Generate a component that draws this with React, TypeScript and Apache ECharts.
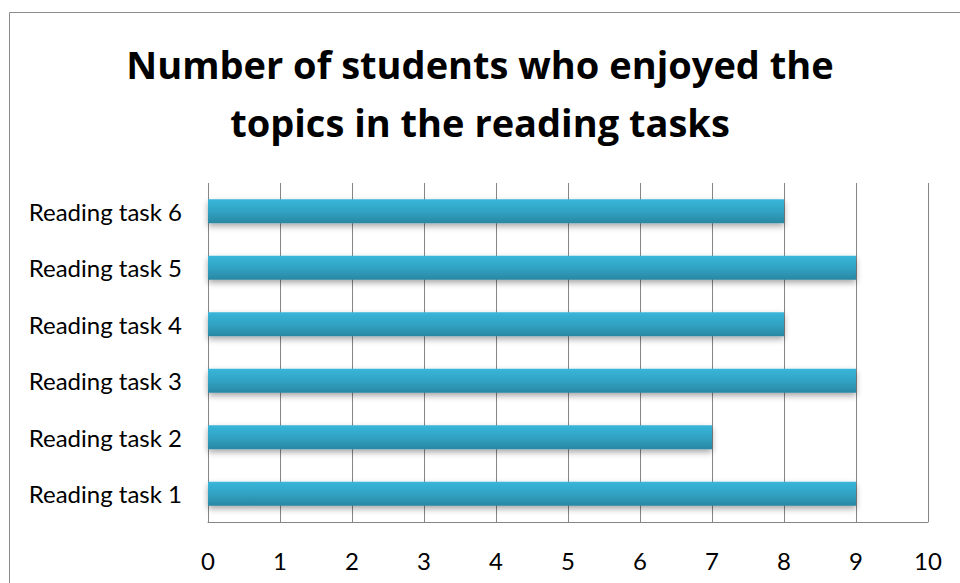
import React, { useEffect, useRef } from "react";
import * as echarts from "echarts";

const categories = [
  "Reading task 1",
  "Reading task 2",
  "Reading task 3",
  "Reading task 4",
  "Reading task 5",
  "Reading task 6",
];
const values = [9, 7, 9, 8, 9, 8];
const titleText = "Number of students who enjoyed the\ntopics in the reading tasks";

export default function App() {
  const ref = useRef<HTMLDivElement>(null);
  useEffect(() => {
    if (!ref.current) return;
    const chart = echarts.init(ref.current, null, { renderer: "svg" });
    chart.setOption({
      animation: false,
      backgroundColor: "#ffffff",
      title: {
        text: titleText,
        left: "center",
        top: 30,
        textStyle: {
          fontFamily: "Open Sans",
          fontWeight: "bold",
          fontSize: 38,
          lineHeight: 58,
          color: "#000000",
        },
      },
      graphic: [
        {
          type: "rect",
          shape: { x: 9.5, y: 12.5, width: 1000, height: 1000 },
          style: { fill: "none", stroke: "#8c8c8c", lineWidth: 1 },
          silent: true,
        },
      ],
      grid: { left: 208, right: 32, top: 183, bottom: 61 },
      xAxis: {
        type: "value",
        min: 0,
        max: 10,
        interval: 1,
        axisLine: { show: true, lineStyle: { color: "#868686", width: 1 } },
        axisTick: { show: false },
        splitLine: { show: true, lineStyle: { color: "#868686", width: 1 } },
        axisLabel: {
          margin: 26,
          fontFamily: "Lato",
          fontSize: 24,
          color: "#000000",
        },
      },
      yAxis: {
        type: "category",
        data: categories,
        axisLine: { show: false },
        axisTick: { show: false },
        axisLabel: {
          margin: 26,
          fontFamily: "Lato",
          fontSize: 24,
          color: "#000000",
        },
      },
      series: [
        {
          type: "bar",
          data: values,
          barWidth: 24,
          itemStyle: {
            color: new echarts.graphic.LinearGradient(0, 0, 0, 1, [
              { offset: 0, color: "#38b6d9" },
              { offset: 0.5, color: "#31a3c4" },
              { offset: 1, color: "#2a87a2" },
            ]),
            shadowColor: "rgba(0,0,0,0.35)",
            shadowBlur: 6,
            shadowOffsetY: 3,
          },
        },
      ],
    });
    return () => chart.dispose();
  }, []);
  return (
    <div
      ref={ref}
      style={{ position: "fixed", left: 0, top: 0, width: 960, height: 583 }}
    />
  );
}
